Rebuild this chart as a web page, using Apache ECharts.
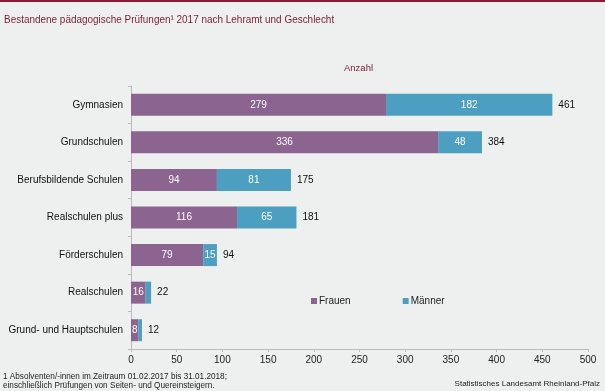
<!DOCTYPE html>
<html><head><meta charset="utf-8">
<script src="https://cdn.jsdelivr.net/npm/echarts@6/dist/echarts.min.js"></script>
<style>html,body{margin:0;padding:0;background:#eef0ef;}#c{width:605px;height:391px;}</style>
</head><body><div id="c"></div>
<script>
const categories = ['Gymnasien','Grundschulen','Berufsbildende Schulen','Realschulen plus','Förderschulen','Realschulen','Grund- und Hauptschulen'];
const frauen = [279, 336, 94, 116, 79, 16, 8];
const maenner = [182, 48, 81, 65, 15, 6, 4];
const totals = [461, 384, 175, 181, 94, 22, 12];
const xTicks = [0, 50, 100, 150, 200, 250, 300, 350, 400, 450, 500];

const font = 'Liberation Sans, Arial, sans-serif';
const chart = echarts.init(document.getElementById('c'), null, {renderer: 'canvas'});
chart.setOption({
  backgroundColor: '#eef0ef',
  animation: false,
  graphic: [
    {type: 'rect', shape: {x: 0, y: 0, width: 605, height: 2}, style: {fill: '#8b1a35'}},
    {type: 'text', x: 4, y: 14, scaleX: 0.865, style: {text: 'Bestandene pädagogische Prüfungen¹ 2017 nach Lehramt und Geschlecht', fill: '#7a1e35', font: '11.5px ' + font}},
    {type: 'text', left: 344, top: 63, style: {text: 'Anzahl', fill: '#7a1e35', font: '9.5px ' + font}},
    {type: 'text', left: 3, top: 372, style: {text: '1 Absolventen/-innen im Zeitraum 01.02.2017 bis 31.01.2018;\neinschließlich Prüfungen von Seiten- und Quereinsteigern.', fill: '#222', font: '8.2px ' + font, lineHeight: 9}},
    {type: 'text', right: 5, top: 380, style: {text: 'Statistisches Landesamt Rheinland-Pfalz', fill: '#222', font: '8px ' + font}}
  ],
  legend: {
    data: ['Frauen', 'Männer'],
    left: 306, top: 291,
    itemWidth: 6, itemHeight: 6, itemGap: 52,
    icon: 'rect',
    textStyle: {fontFamily: font, fontSize: 10, color: '#222', padding: [0, 0, 0, -3]}
  },
  grid: {left: 131, right: 17, top: 86, bottom: 42},
  xAxis: {
    type: 'value', min: 0, max: 500, interval: 50,
    axisLine: {show: true, lineStyle: {color: '#bbbbbb'}},
    axisTick: {show: true, length: 3, lineStyle: {color: '#bbbbbb'}},
    splitLine: {show: false},
    axisLabel: {fontFamily: font, fontSize: 10, color: '#222', margin: 6,
      formatter: v => xTicks.includes(v) ? String(v) : ''}
  },
  yAxis: {
    type: 'category', data: categories, inverse: true,
    axisLine: {show: true, lineStyle: {color: '#bbbbbb'}},
    axisTick: {show: true, length: 3, lineStyle: {color: '#bbbbbb'}},
    axisLabel: {fontFamily: font, fontSize: 10, color: '#111', margin: 8}
  },
  series: [
    {name: 'Frauen', type: 'bar', stack: 's', data: frauen, barWidth: 22,
      itemStyle: {color: '#8b648f'},
      label: {show: true, position: 'inside', color: '#fff', fontFamily: font, fontSize: 10}},
    {name: 'Männer', type: 'bar', stack: 's', data: maenner, barWidth: 22,
      itemStyle: {color: '#4d9fc1'},
      label: {show: true, position: 'inside', color: '#fff', fontFamily: font, fontSize: 10,
        formatter: p => p.value >= 10 ? p.value : ''}},
    {name: 'Summe', type: 'bar', data: totals, barWidth: 22, barGap: '-100%', z: 1,
      itemStyle: {color: 'rgba(0,0,0,0)'},
      label: {show: true, position: 'right', distance: 6, color: '#111', fontFamily: font, fontSize: 10}}
  ]
});
</script></body></html>
